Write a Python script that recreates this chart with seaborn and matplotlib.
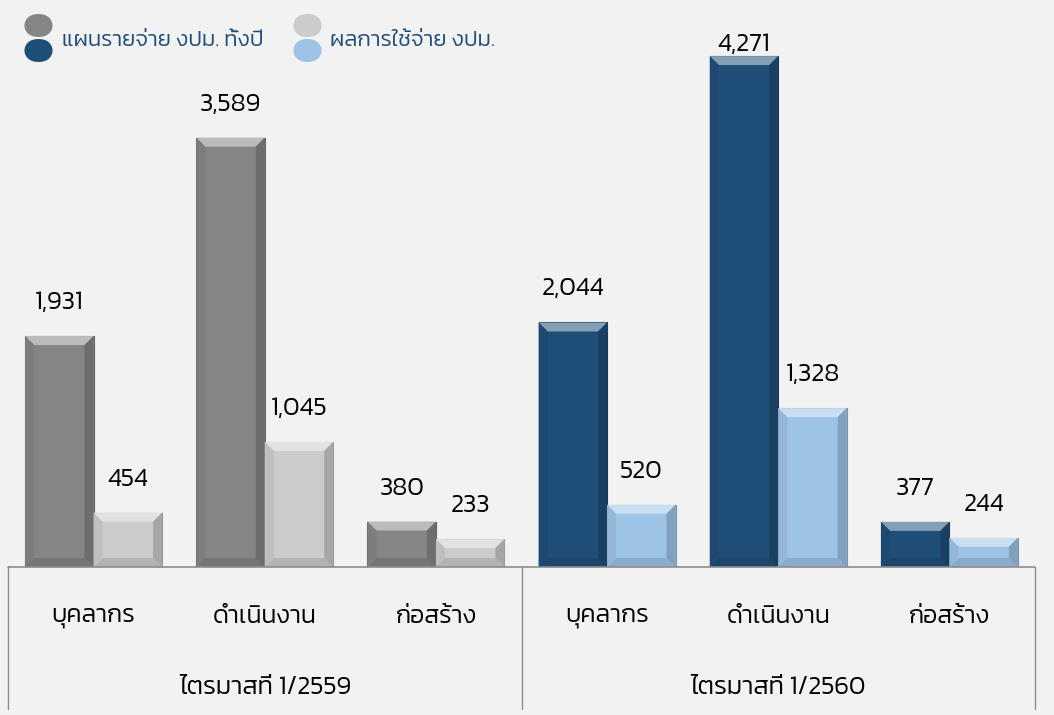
import numpy as np
import pandas as pd
import matplotlib
matplotlib.use("Agg")
import matplotlib.pyplot as plt
import seaborn as sns
from matplotlib.patches import Polygon, FancyBboxPatch
import matplotlib.colors as mcolors

# data
categories = ["บุคลากร", "ดำเนินงาน", "ก่อสร้าง"]
periods = ["ไตรมาสที่ 1/2559", "ไตรมาสที่ 1/2560"]
series_names = ["แผนรายจ่าย งปม. ทั้งปี", "ผลการใช้จ่าย งปม."]
plan_2559 = [1931, 3589, 380]
spent_2559 = [454, 1045, 233]
plan_2560 = [2044, 4271, 377]
spent_2560 = [520, 1328, 244]

colors_2559 = ["#858585", "#cbcbcb"]
colors_2560 = ["#1f4e79", "#9dc3e6"]
BG = "#f2f2f2"

rows = []
for p, (plan, spent) in zip(periods, [(plan_2559, spent_2559), (plan_2560, spent_2560)]):
    for c, v1, v2 in zip(categories, plan, spent):
        slot = p + "|" + c
        rows.append({"slot": slot, "series": series_names[0], "value": v1, "period": p})
        rows.append({"slot": slot, "series": series_names[1], "value": v2, "period": p})
df = pd.DataFrame(rows)
slots = list(dict.fromkeys(df["slot"]))

sns.set_theme(style="white")
plt.rcParams['font.family'] = ['Kanit', 'DejaVu Sans']
plt.rcParams['font.weight'] = 300

fig = plt.figure(figsize=(10.54, 7.15), dpi=100, facecolor=BG)
ax = fig.add_axes([8/1054, (715-567)/715, 1027/1054, 567/715])
ax.set_facecolor(BG)

sns.barplot(data=df, x="slot", y="value", hue="series", order=slots,
            hue_order=series_names, width=0.8, ax=ax, legend=False,
            saturation=1, errorbar=None)
ax.set_ylim(0, 4740)
ax.set_xlim(-0.5, len(slots) - 0.5)

# recolour bars per period (hue order: all plan bars first, then spent)
n = len(slots)
bars = ax.patches[:2 * n]
fig.canvas.draw()
px_x = ax.transData.transform((1, 0))[0] - ax.transData.transform((0, 0))[0]
px_y = ax.transData.transform((0, 1000))[1] - ax.transData.transform((0, 0))[1]
bev_x = 9 / px_x
bev_y = 9 / px_y * 1000
top_limit = 4740 - 45 / px_y * 1000  # labels may not rise above this


def shade(c, f):
    r, g, b = mcolors.to_rgb(c)
    if f > 0:
        return (r + (1 - r) * f, g + (1 - g) * f, b + (1 - b) * f)
    return (r * (1 + f), g * (1 + f), b * (1 + f))


for s in range(2):
    for i in range(n):
        bar = bars[s * n + i]
        base = colors_2559[s] if i < 3 else colors_2560[s]
        bar.set_facecolor(base)
        bar.set_edgecolor(shade(base, -0.25))
        bar.set_linewidth(0.8)
        x0, w, h = bar.get_x(), bar.get_width(), bar.get_height()
        x1 = x0 + w
        by = min(bev_y, h / 2)
        top = Polygon([(x0, h), (x1, h), (x1 - bev_x, h - by), (x0 + bev_x, h - by)],
                      closed=True, facecolor=shade(base, 0.45), edgecolor="none")
        bot = Polygon([(x0, 0), (x1, 0), (x1 - bev_x, by), (x0 + bev_x, by)],
                      closed=True, facecolor=shade(base, -0.12), edgecolor="none")
        left = Polygon([(x0, 0), (x0 + bev_x, by), (x0 + bev_x, h - by), (x0, h)],
                       closed=True, facecolor=shade(base, -0.06), edgecolor="none")
        right = Polygon([(x1, 0), (x1 - bev_x, by), (x1 - bev_x, h - by), (x1, h)],
                        closed=True, facecolor=shade(base, -0.18), edgecolor="none")
        for poly in (top, bot, left, right):
            ax.add_patch(poly)
        label_y = min(h + 33 / px_y * 1000, top_limit)
        ax.text(x0 + w / 2, label_y, f"{int(h):,}", ha="center", va="center",
                fontsize=18.5, color="black", zorder=5)

# axes cosmetics
for sp in ax.spines.values():
    sp.set_visible(False)
ax.set_xticks([])
ax.set_yticks([])
ax.set_xlabel("")
ax.set_ylabel("")

# category table under the bars
tr = ax.get_xaxis_transform()
line_col = "#8c8c8c"
ax.plot([-0.5, n - 0.5], [0, 0], color=line_col, lw=1.2, transform=tr, clip_on=False)
for xv in [-0.5, 2.5, n - 0.5]:
    ax.plot([xv, xv], [0, -0.25], color=line_col, lw=1.0, transform=tr, clip_on=False)
for i, slot in enumerate(slots):
    ax.text(i, -0.088, slot.split("|")[1], transform=tr, ha="center", va="center",
            fontsize=18, color="black")
for j, p in enumerate(periods):
    ax.text(1 + 3 * j, -0.213, p, transform=tr, ha="center", va="center",
            fontsize=18.5, color="black")

# legend with stacked rounded swatches
legend_x = [24, 293]
text_x = [62, 330]
for k in range(2):
    for col, ytop in [(colors_2559[k], 14), (colors_2560[k], 39)]:
        box = FancyBboxPatch((legend_x[k] / 1054, 1 - (ytop + 23) / 715), 29 / 1054, 23 / 715,
                             boxstyle="round,pad=0,rounding_size=0.014",
                             transform=fig.transFigure, facecolor=col, edgecolor="none",
                             mutation_aspect=1054 / 715)
        fig.patches.append(box)
    fig.text(text_x[k] / 1054, 1 - 40 / 715, series_names[k], ha="left", va="center",
             fontsize=16, color="#1f4e79")

fig.savefig("out.png", dpi=100, facecolor=BG)
